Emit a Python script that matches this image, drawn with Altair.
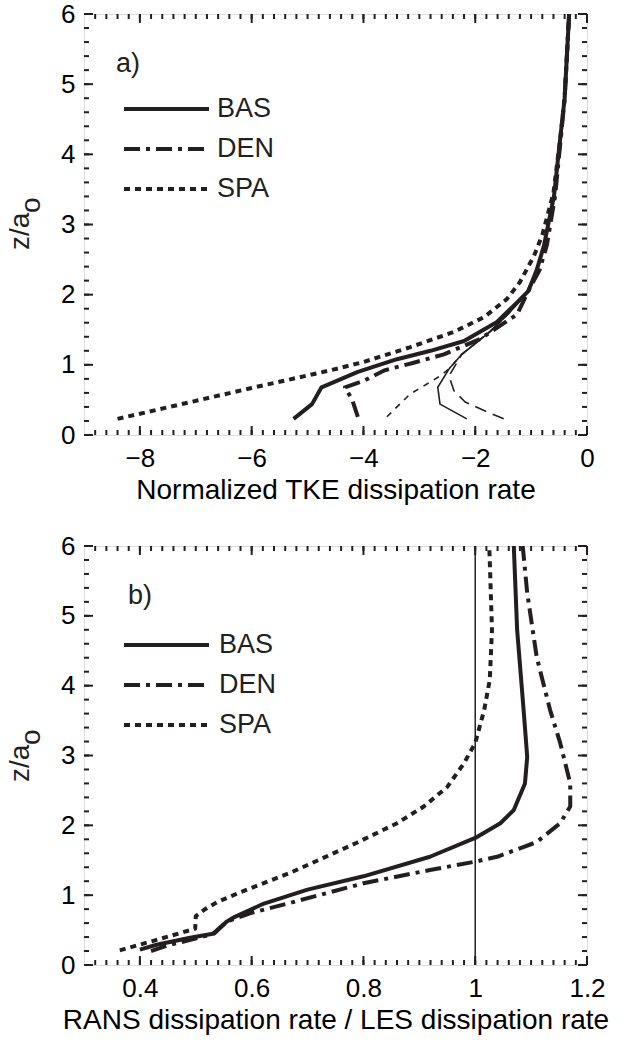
import altair as alt
import numpy as np
import pandas as pd

FONT = "Liberation Sans"
INK = "#231f20"

# ---------------- panel a: normalized TKE dissipation rate ----------------
bas_a_x = [-5.25, -4.92, -4.75, -4.10, -3.40, -2.80, -2.20, -1.61, -1.25, -1.05, -0.90, -0.77, -0.59, -0.48, -0.40, -0.32]
bas_a_z = [0.23, 0.44, 0.68, 0.90, 1.08, 1.20, 1.34, 1.61, 1.89, 2.05, 2.35, 2.70, 3.41, 4.22, 4.80, 6.00]

den_a_x = [-4.10, -4.20, -4.33, -4.00, -3.63, -3.10, -2.56, -1.91, -1.25, -1.02, -0.85, -0.72, -0.57, -0.47, -0.40, -0.32]
den_a_z = [0.26, 0.50, 0.68, 0.77, 0.92, 1.03, 1.15, 1.37, 1.72, 2.10, 2.35, 2.70, 3.41, 4.22, 4.80, 6.00]

spa_a_x = [-8.40, -6.00, -4.60, -4.00, -3.17, -2.38, -1.84, -1.43, -1.20, -0.95, -0.80, -0.60, -0.48, -0.40, -0.32]
spa_a_z = [0.23, 0.67, 0.92, 1.04, 1.25, 1.47, 1.68, 1.94, 2.18, 2.55, 2.85, 3.45, 4.22, 4.80, 6.00]

les_bas_a_x = [-2.15, -2.63, -2.67, -2.47, -2.24, -1.74, -1.38, -1.10, -0.90, -0.77, -0.59, -0.48, -0.40, -0.32]
les_bas_a_z = [0.23, 0.44, 0.68, 0.94, 1.15, 1.47, 1.75, 2.00, 2.35, 2.70, 3.41, 4.22, 4.80, 6.00]

les_den_a_x = [-1.49, -1.79, -2.18, -2.38, -2.47, -2.24, -1.74, -1.38, -1.10, -0.90, -0.77, -0.59, -0.48, -0.40, -0.32]
les_den_a_z = [0.23, 0.33, 0.47, 0.63, 0.84, 1.15, 1.47, 1.75, 2.00, 2.35, 2.70, 3.41, 4.22, 4.80, 6.00]

les_spa_a_x = [-3.58, -3.17, -2.63, -2.47, -2.24, -1.74, -1.38, -1.10, -0.90, -0.77, -0.59, -0.48, -0.40, -0.32]
les_spa_a_z = [0.26, 0.58, 0.84, 0.94, 1.15, 1.47, 1.75, 2.00, 2.35, 2.70, 3.41, 4.22, 4.80, 6.00]

# ---------------- panel b: RANS / LES dissipation ratio ----------------
bas_b_x = [0.40, 0.43, 0.49, 0.533, 0.555, 0.57, 0.622, 0.70, 0.80, 0.919, 1.00, 1.045, 1.069, 1.089, 1.093, 1.087, 1.075, 1.069]
bas_b_z = [0.22, 0.29, 0.39, 0.45, 0.62, 0.69, 0.88, 1.08, 1.27, 1.55, 1.82, 2.03, 2.22, 2.60, 2.98, 3.61, 4.80, 6.00]

den_b_x = [0.42, 0.45, 0.53, 0.555, 0.597, 0.669, 0.80, 0.919, 1.00, 1.039, 1.11, 1.152, 1.17, 1.17, 1.152, 1.134, 1.11, 1.093, 1.085]
den_b_z = [0.20, 0.28, 0.44, 0.62, 0.74, 0.89, 1.17, 1.36, 1.48, 1.55, 1.76, 2.03, 2.27, 2.60, 3.18, 3.65, 4.41, 5.33, 6.00]

spa_b_x = [0.364, 0.43, 0.499, 0.50, 0.515, 0.538, 0.579, 0.669, 0.788, 0.86, 0.908, 0.95, 0.98, 1.00, 1.016, 1.026, 1.03, 1.026, 1.025]
spa_b_z = [0.21, 0.36, 0.52, 0.70, 0.79, 0.90, 1.04, 1.32, 1.75, 2.03, 2.27, 2.55, 2.89, 3.18, 3.65, 4.08, 4.80, 5.80, 6.00]

ratio_ref = [1.0]

# axis tick labels
z_labels = [0, 1, 2, 3, 4, 5, 6]
x_labels_a = [-8, -6, -4, -2, 0]
x_labels_b = [0.4, 0.6, 0.8, 1.0, 1.2]

legend_names = ["BAS", "DEN", "SPA"]

SOLID = None
DOTTED = [6, 5]
DASHDOT = [16, 6, 4, 6]
THIN_DASH = [6, 6]

W = 503


def frame(xs, zs):
    return pd.DataFrame({"x": xs, "z": zs, "i": list(range(len(xs)))})


def profile(xs, zs, xenc, yenc, width, dash):
    kw = {"strokeWidth": width, "color": INK, "strokeJoin": "round", "clip": True}
    if dash is not None:
        kw["strokeDash"] = dash
    return alt.Chart(frame(xs, zs)).mark_line(**kw).encode(
        x=xenc("x"), y=yenc("z"), order="i:Q")


def tick_layers(xmajor, xminor, zmajor, zminor, xenc, yenc, H):
    layers = []
    for vals, ln in ((xmajor, 9), (xminor, 5)):
        base = alt.Chart(pd.DataFrame({"v": vals})).mark_rule(color=INK, strokeWidth=2)
        layers.append(base.encode(x=xenc("v"), y=alt.value(H), y2=alt.value(H - ln)))
        layers.append(base.encode(x=xenc("v"), y=alt.value(0), y2=alt.value(ln)))
    for vals, ln in ((zmajor, 9), (zminor, 5)):
        base = alt.Chart(pd.DataFrame({"v": vals})).mark_rule(color=INK, strokeWidth=2)
        layers.append(base.encode(y=yenc("v"), x=alt.value(0), x2=alt.value(ln)))
        layers.append(base.encode(y=yenc("v"), x=alt.value(W), x2=alt.value(W - ln)))
    return layers


def decorations(tag, tag_x, text_x, legend_top):
    one = pd.DataFrame({"k": [0]})
    layers = [
        alt.Chart(one).mark_text(text=tag, font=FONT, fontSize=27, align="left",
                                 baseline="middle", color=INK)
        .encode(x=alt.value(tag_x), y=alt.value(50))
    ]
    dashes = [SOLID, DASHDOT, DOTTED]
    for k, (name, dash) in enumerate(zip(legend_names, dashes)):
        ypx = legend_top + 40 * k
        kw = {"color": INK, "strokeWidth": 4}
        if dash is not None:
            kw["strokeDash"] = dash
        layers.append(alt.Chart(one).mark_rule(**kw).encode(
            x=alt.value(40), x2=alt.value(125), y=alt.value(ypx)))
        layers.append(alt.Chart(one).mark_text(text=name, font=FONT, fontSize=27, align="left",
                                               baseline="middle", color=INK)
                      .encode(x=alt.value(text_x), y=alt.value(ypx)))
    # y-axis title z/a with subscript o
    layers.append(alt.Chart(one).mark_text(text="z/a", font=FONT, fontSize=28, angle=270,
                                           align="left", baseline="alphabetic", color=INK)
                  .encode(x=alt.value(-55), y=alt.value(236)))
    layers.append(alt.Chart(one).mark_text(text="o", font=FONT, fontSize=28, angle=270,
                                           align="left", baseline="alphabetic", color=INK)
                  .encode(x=alt.value(-44), y=alt.value(199)))
    return layers


def make_x(domain, values, title, fmt):
    scale = alt.Scale(domain=domain, nice=False, zero=False)
    axis = alt.Axis(values=values, ticks=False, domain=False, grid=False, format=fmt,
                    labelFontSize=26, labelPadding=10, title=title, titleFontSize=28,
                    titleFontWeight="normal", titlePadding=5, labelFlush=False)
    return lambda f: alt.X(f"{f}:Q", scale=scale, axis=axis, title=title)


def make_y():
    scale = alt.Scale(domain=[0, 6], nice=False, zero=False)
    axis = alt.Axis(values=z_labels, ticks=False, domain=False, grid=False, format="d",
                    labelFontSize=26, labelPadding=9, title=None)
    return lambda f: alt.Y(f"{f}:Q", scale=scale, axis=axis, title=None)


# ---------------- panel a ----------------
Ha = 421
xa = make_x([-9, 0], x_labels_a, "Normalized TKE dissipation rate", "d")
ya = make_y()

a_layers = [
    profile(les_spa_a_x, les_spa_a_z, xa, ya, 1.6, THIN_DASH),
    profile(les_den_a_x, les_den_a_z, xa, ya, 1.6, [12, 7]),
    profile(les_bas_a_x, les_bas_a_z, xa, ya, 1.6, SOLID),
    profile(spa_a_x, spa_a_z, xa, ya, 4, DOTTED),
    profile(den_a_x, den_a_z, xa, ya, 4, DASHDOT),
    profile(bas_a_x, bas_a_z, xa, ya, 4, SOLID),
]
a_layers += tick_layers(x_labels_a, [round(v, 1) for v in np.arange(-8.8, 0, 0.2)],
                        z_labels, [round(v, 1) for v in np.arange(0.2, 6, 0.2)], xa, ya, Ha)
a_layers += decorations("a)", 32, 133, 95)
panel_a = alt.layer(*a_layers).properties(width=W, height=Ha)

# ---------------- panel b ----------------
Hb = 419
xb = make_x([0.3, 1.2], x_labels_b, "RANS dissipation rate / LES dissipation rate", "~g")
yb = make_y()

b_layers = [
    alt.Chart(pd.DataFrame({"r": ratio_ref})).mark_rule(color=INK, strokeWidth=1.5).encode(x=xb("r")),
    profile(spa_b_x, spa_b_z, xb, yb, 4, DOTTED),
    profile(den_b_x, den_b_z, xb, yb, 4, DASHDOT),
    profile(bas_b_x, bas_b_z, xb, yb, 4, SOLID),
]
b_layers += tick_layers(x_labels_b, [round(v, 2) for v in np.arange(0.32, 1.2, 0.02)],
                        z_labels, [round(v, 1) for v in np.arange(0.2, 6, 0.2)], xb, yb, Hb)
b_layers += decorations("b)", 44, 135, 99)
panel_b = alt.layer(*b_layers).properties(width=W, height=Hb)

chart = (
    alt.vconcat(panel_a, panel_b, spacing=27)
    .properties(padding={"left": 6, "top": 0, "right": 5, "bottom": 3})
    .configure_view(stroke=INK, strokeWidth=3)
    .configure_axis(labelFont=FONT, titleFont=FONT, labelColor=INK, titleColor=INK,
                    titleFontWeight="normal")
    .configure(background="white")
)

chart.save("out.html", embed_options={"renderer": "svg", "actions": False})
